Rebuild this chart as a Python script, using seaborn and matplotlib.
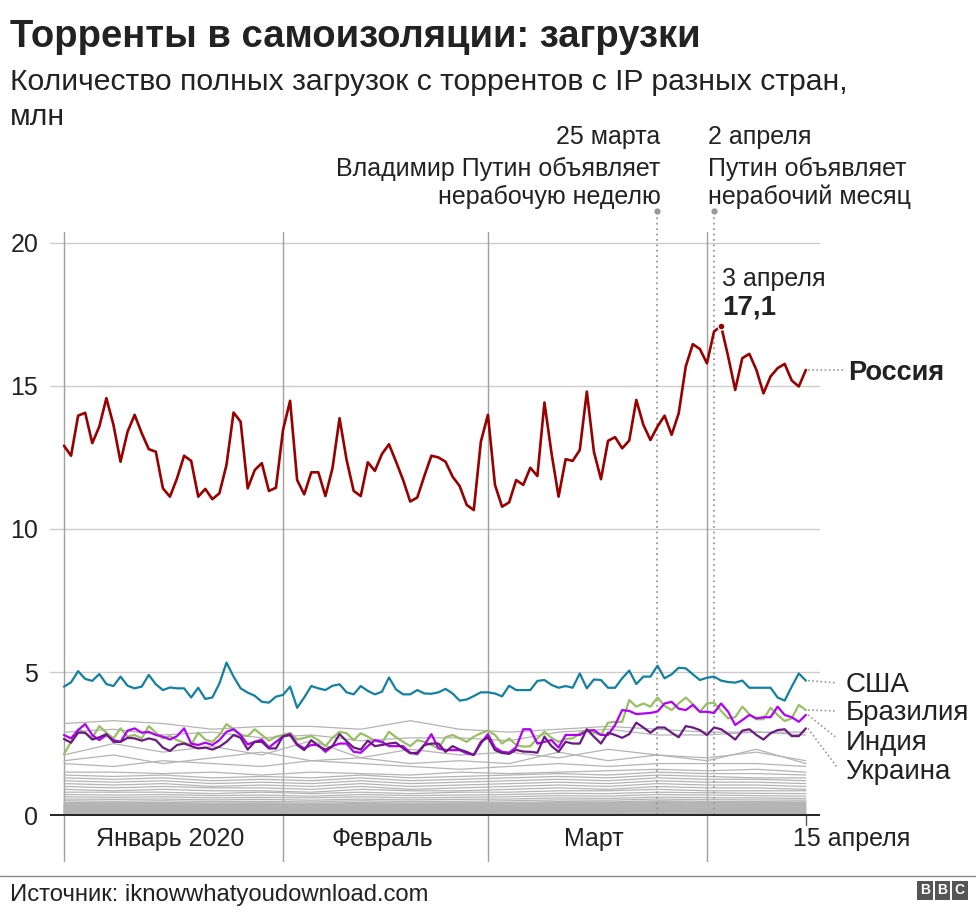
import numpy as np
import pandas as pd
import matplotlib
matplotlib.use("Agg")
import matplotlib.pyplot as plt
from matplotlib.lines import Line2D
from matplotlib.patches import Rectangle
import seaborn as sns

# ---------------- data ----------------
dates = pd.date_range("2020-01-01", "2020-04-15", freq="D")

russia = [12.91, 12.56, 13.96, 14.06, 13.0, 13.58, 14.57, 13.64, 12.35, 13.4,
          13.99, 13.35, 12.79, 12.7, 11.42, 11.13, 11.77, 12.56, 12.38, 11.13,
          11.4, 11.04, 11.25, 12.24, 14.07, 13.75, 11.42, 12.06, 12.3, 11.33,
          11.44, 13.46, 14.48, 11.71, 11.21, 11.98, 11.98, 11.15, 12.12, 13.87,
          12.41, 11.33, 11.15, 12.33, 12.03, 12.62, 12.96, 12.35, 11.71, 10.96,
          11.1, 11.85, 12.56, 12.5, 12.35, 11.83, 11.5, 10.84, 10.66, 13.05,
          13.99, 11.54, 10.78, 10.93, 11.71, 11.54, 12.14, 11.85, 14.42, 12.65,
          11.13, 12.44, 12.38, 12.76, 14.8, 12.7, 11.74, 13.08, 13.21, 12.82,
          13.09, 14.51, 13.64, 13.11, 13.58, 13.96, 13.29, 14.04, 15.68, 16.46,
          16.29, 15.79, 16.9, 17.1, 16.03, 14.86, 15.97, 16.12, 15.56, 14.74,
          15.33, 15.62, 15.77, 15.19, 14.98, 15.56]

usa = [4.49, 4.64, 5.03, 4.76, 4.69, 4.93, 4.58, 4.51, 4.84, 4.52,
       4.43, 4.49, 4.9, 4.57, 4.37, 4.46, 4.43, 4.43, 4.11, 4.45,
       4.06, 4.11, 4.6, 5.33, 4.84, 4.43, 4.28, 4.17, 3.96, 3.93,
       4.14, 4.2, 4.49, 3.75, 4.11, 4.51, 4.43, 4.37, 4.52, 4.57,
       4.29, 4.22, 4.51, 4.34, 4.22, 4.31, 4.81, 4.39, 4.22, 4.22,
       4.37, 4.25, 4.24, 4.29, 4.41, 4.25, 4.0, 4.04, 4.16, 4.29,
       4.29, 4.25, 4.15, 4.52, 4.37, 4.37, 4.37, 4.69, 4.72, 4.55,
       4.45, 4.51, 4.45, 4.95, 4.43, 4.74, 4.72, 4.45, 4.45, 4.78,
       5.05, 4.58, 4.84, 4.84, 5.22, 4.78, 4.92, 5.15, 5.13, 4.92,
       4.72, 4.8, 4.84, 4.7, 4.65, 4.63, 4.7, 4.45, 4.45, 4.45,
       4.45, 4.11, 4.0, 4.49, 4.95, 4.7]

brazil = [2.13, 2.56, 3.0, 2.86, 2.7, 3.11, 2.88, 2.68, 3.03, 2.74,
          2.8, 2.68, 3.11, 2.88, 2.68, 2.76, 2.62, 2.53, 2.45, 2.88,
          2.64, 2.56, 2.8, 3.18, 3.0, 2.8, 2.76, 3.0, 2.8, 2.6,
          2.74, 2.8, 2.87, 2.64, 2.7, 2.76, 2.62, 2.41, 2.7, 2.91,
          2.86, 2.62, 2.86, 2.74, 2.6, 2.53, 2.91, 2.72, 2.56, 2.41,
          2.62, 2.56, 2.45, 2.33, 2.72, 2.8, 2.68, 2.56, 2.74, 2.86,
          2.95, 2.8, 2.5, 2.68, 2.45, 2.39, 2.41, 2.68, 2.91, 2.7,
          2.56, 2.66, 2.68, 2.86, 2.97, 2.88, 2.8, 3.23, 3.26, 3.26,
          4.02, 3.79, 3.9, 3.79, 4.11, 3.82, 3.67, 3.9, 4.11, 3.88,
          3.61, 3.9, 3.93, 3.64, 3.38, 3.42, 3.79, 3.53, 3.35, 3.35,
          3.75, 3.5, 3.29, 3.38, 3.85, 3.67]

india = [2.8, 2.68, 2.97, 3.18, 2.8, 2.62, 2.8, 2.62, 2.56, 2.95,
         3.03, 2.88, 2.91, 2.8, 2.74, 2.64, 2.76, 3.03, 2.5, 2.45,
         2.53, 2.45, 2.62, 2.91, 3.0, 2.8, 2.47, 2.56, 2.64, 2.36,
         2.56, 2.74, 2.83, 2.48, 2.33, 2.45, 2.45, 2.21, 2.41, 2.5,
         2.5, 2.21, 2.18, 2.41, 2.62, 2.56, 2.41, 2.41, 2.41, 2.18,
         2.13, 2.45, 2.83, 2.33, 2.27, 2.27, 2.27, 2.16, 2.1, 2.5,
         2.83, 2.36, 2.21, 2.18, 2.37, 3.0, 3.0, 2.5, 2.56, 2.62,
         2.36, 2.8, 2.8, 2.8, 2.95, 2.97, 2.8, 2.8, 3.15, 3.67,
         3.64, 3.53, 3.55, 3.57, 3.62, 3.9, 3.96, 3.72, 3.67, 3.85,
         3.61, 3.61, 3.57, 3.9, 3.61, 3.15, 3.32, 3.5, 3.38, 3.42,
         3.42, 3.79, 3.5, 3.42, 3.26, 3.5]

ukraine = [2.66, 2.53, 2.88, 2.88, 2.64, 2.72, 2.83, 2.56, 2.56, 2.7,
           2.68, 2.6, 2.68, 2.62, 2.36, 2.24, 2.45, 2.5, 2.41, 2.33,
           2.36, 2.29, 2.39, 2.56, 2.8, 2.7, 2.29, 2.56, 2.56, 2.33,
           2.33, 2.76, 2.8, 2.45, 2.27, 2.62, 2.41, 2.29, 2.41, 2.83,
           2.58, 2.36, 2.29, 2.6, 2.41, 2.45, 2.5, 2.53, 2.33, 2.16,
           2.18, 2.45, 2.5, 2.5, 2.21, 2.41, 2.29, 2.21, 2.1, 2.56,
           2.72, 2.27, 2.17, 2.14, 2.28, 2.22, 2.21, 2.18, 2.74, 2.41,
           2.21, 2.56, 2.5, 2.5, 3.0, 2.74, 2.5, 2.88, 2.8, 2.7,
           2.83, 3.23, 3.06, 2.88, 3.06, 3.06, 2.88, 2.72, 3.11, 3.06,
           2.97, 2.8, 3.06, 3.0, 2.83, 2.64, 2.95, 3.0, 2.8, 2.64,
           2.86, 2.97, 3.0, 2.76, 2.76, 3.03]

# other countries, read weekly (Jan 1, Jan 8, ..., Apr 15)
grey_dates = pd.date_range("2020-01-01", "2020-04-15", freq="7D")
grey_lines = [
    [3.2, 3.3, 3.2, 3.0, 3.1, 3.1, 3.0, 3.3, 3.0, 2.9, 3.0, 3.1, 3.0, 2.9, 2.9, 2.9],
    [2.9, 3.0, 2.8, 2.9, 2.7, 2.8, 2.6, 2.7, 2.7, 2.6, 2.9, 3.0, 2.8, 2.8, 2.9, 2.8],
    [2.1, 2.5, 2.2, 2.4, 2.1, 2.6, 2.0, 2.3, 2.1, 2.2, 2.0, 2.3, 2.1, 2.0, 2.2, 1.9],
    [1.9, 2.1, 1.8, 2.0, 2.2, 1.9, 2.0, 1.8, 1.9, 1.8, 2.2, 1.9, 2.1, 1.9, 2.3, 1.8],
    [1.8, 1.7, 1.9, 1.8, 1.7, 1.9, 1.8, 1.7, 1.6, 1.7, 1.8, 1.7, 1.8, 1.8, 1.8, 1.7],
    [1.5, 1.5, 1.45, 1.5, 1.4, 1.5, 1.45, 1.4, 1.5, 1.45, 1.5, 1.55, 1.6, 1.55, 1.6, 1.5],
    [1.4, 1.35, 1.4, 1.3, 1.35, 1.3, 1.4, 1.3, 1.35, 1.4, 1.45, 1.4, 1.5, 1.45, 1.45, 1.4],
    [1.3, 1.25, 1.3, 1.2, 1.25, 1.2, 1.3, 1.2, 1.25, 1.3, 1.35, 1.3, 1.4, 1.35, 1.3, 1.3],
    [1.2, 1.15, 1.2, 1.1, 1.15, 1.1, 1.2, 1.1, 1.15, 1.2, 1.25, 1.2, 1.3, 1.25, 1.25, 1.2],
    [1.1, 1.05, 1.1, 1.0, 1.05, 1.0, 1.1, 1.0, 1.05, 1.1, 1.15, 1.1, 1.2, 1.15, 1.15, 1.1],
    [1.0, 0.95, 1.0, 0.95, 0.95, 0.9, 1.0, 0.9, 0.95, 1.0, 1.05, 1.0, 1.1, 1.05, 1.05, 1.0],
    [0.9, 0.85, 0.9, 0.85, 0.85, 0.8, 0.9, 0.85, 0.85, 0.9, 0.95, 0.9, 1.0, 0.95, 0.95, 0.9],
    [0.8, 0.8, 0.8, 0.75, 0.8, 0.75, 0.8, 0.75, 0.8, 0.8, 0.85, 0.85, 0.9, 0.85, 0.85, 0.85],
    [0.72, 0.7, 0.72, 0.68, 0.7, 0.66, 0.72, 0.68, 0.7, 0.72, 0.76, 0.75, 0.8, 0.78, 0.76, 0.75],
    [0.64, 0.62, 0.64, 0.6, 0.62, 0.6, 0.64, 0.6, 0.62, 0.64, 0.68, 0.66, 0.72, 0.7, 0.68, 0.66],
    [0.56, 0.55, 0.56, 0.53, 0.55, 0.52, 0.56, 0.53, 0.55, 0.56, 0.6, 0.58, 0.63, 0.61, 0.6, 0.58],
    [0.5, 0.48, 0.5, 0.47, 0.48, 0.46, 0.5, 0.47, 0.48, 0.5, 0.53, 0.52, 0.56, 0.54, 0.53, 0.52],
    [0.44, 0.43, 0.44, 0.42, 0.43, 0.41, 0.44, 0.42, 0.43, 0.44, 0.47, 0.46, 0.5, 0.48, 0.47, 0.46],
    [0.41, 0.4, 0.41, 0.39, 0.4, 0.38, 0.41, 0.39, 0.4, 0.41, 0.44, 0.43, 0.47, 0.45, 0.44, 0.43],
    [0.39, 0.38, 0.39, 0.37, 0.38, 0.36, 0.39, 0.37, 0.38, 0.39, 0.42, 0.41, 0.44, 0.43, 0.42, 0.41],
    [0.36, 0.35, 0.36, 0.34, 0.35, 0.34, 0.36, 0.34, 0.35, 0.36, 0.39, 0.38, 0.41, 0.4, 0.39, 0.38],
    [0.34, 0.33, 0.34, 0.32, 0.33, 0.32, 0.34, 0.32, 0.33, 0.34, 0.37, 0.36, 0.39, 0.38, 0.37, 0.36],
    [0.31, 0.3, 0.31, 0.3, 0.3, 0.29, 0.31, 0.3, 0.3, 0.31, 0.34, 0.33, 0.36, 0.35, 0.34, 0.33],
    [0.29, 0.28, 0.29, 0.28, 0.28, 0.27, 0.29, 0.28, 0.28, 0.29, 0.32, 0.31, 0.34, 0.33, 0.32, 0.31],
    [0.27, 0.26, 0.27, 0.26, 0.26, 0.25, 0.27, 0.26, 0.26, 0.27, 0.29, 0.28, 0.31, 0.3, 0.29, 0.28],
    [0.25, 0.24, 0.25, 0.24, 0.24, 0.23, 0.25, 0.24, 0.24, 0.25, 0.27, 0.26, 0.29, 0.28, 0.27, 0.26],
    [0.23, 0.22, 0.23, 0.22, 0.22, 0.21, 0.23, 0.22, 0.22, 0.23, 0.25, 0.24, 0.26, 0.25, 0.25, 0.24],
    [0.21, 0.2, 0.21, 0.2, 0.2, 0.19, 0.21, 0.2, 0.2, 0.21, 0.23, 0.22, 0.24, 0.23, 0.23, 0.22],
    [0.19, 0.18, 0.19, 0.18, 0.18, 0.17, 0.19, 0.18, 0.18, 0.19, 0.2, 0.2, 0.22, 0.21, 0.2, 0.2],
    [0.17, 0.16, 0.17, 0.16, 0.16, 0.15, 0.17, 0.16, 0.16, 0.17, 0.18, 0.18, 0.2, 0.19, 0.18, 0.18],
    [0.15, 0.14, 0.15, 0.14, 0.14, 0.13, 0.15, 0.14, 0.14, 0.15, 0.16, 0.16, 0.17, 0.17, 0.16, 0.16],
    [0.13, 0.12, 0.13, 0.12, 0.12, 0.12, 0.13, 0.12, 0.12, 0.13, 0.14, 0.14, 0.15, 0.15, 0.14, 0.14],
    [0.11, 0.1, 0.11, 0.1, 0.1, 0.1, 0.11, 0.1, 0.1, 0.11, 0.12, 0.12, 0.13, 0.12, 0.12, 0.12],
    [0.09, 0.09, 0.09, 0.08, 0.09, 0.08, 0.09, 0.08, 0.09, 0.09, 0.1, 0.1, 0.11, 0.1, 0.1, 0.1],
    [0.07, 0.07, 0.07, 0.06, 0.07, 0.06, 0.07, 0.06, 0.07, 0.07, 0.08, 0.08, 0.08, 0.08, 0.08, 0.08],
    [0.05, 0.05, 0.05, 0.05, 0.05, 0.04, 0.05, 0.05, 0.05, 0.05, 0.06, 0.06, 0.06, 0.06, 0.06, 0.06],
    [0.03, 0.03, 0.03, 0.03, 0.03, 0.03, 0.03, 0.03, 0.03, 0.03, 0.04, 0.04, 0.04, 0.04, 0.04, 0.04],
]

y_ticks = [0, 5, 10, 15, 20]
month_starts = ["2020-01-01", "2020-02-01", "2020-03-01", "2020-04-01"]
month_labels = ["Январь 2020", "Февраль", "Март"]
month_label_pos = ["2020-01-16", "2020-02-15", "2020-03-16"]
events = ["2020-03-25", "2020-04-02"]

# ---------------- style ----------------
sns.set_style("white")
plt.rcParams["font.family"] = ["Liberation Sans", "DejaVu Sans"]
TXT = "#222222"

W, H = 976, 916
fig = plt.figure(figsize=(W / 100, H / 100), dpi=100)
ax = fig.add_axes([50 / W, 54 / H, 770 / W, 630 / H])

t0 = dates[0]
def dnum(d):
    return (pd.Timestamp(d) - t0).days

day = np.array([(d - t0).days for d in dates])
gday = np.array([(d - t0).days for d in grey_dates])

# grey countries
grey_df = pd.DataFrame({
    "day": np.tile(gday, len(grey_lines)),
    "value": np.concatenate(grey_lines),
    "country": np.repeat(np.arange(len(grey_lines)), len(gday)),
})
sns.lineplot(data=grey_df, x="day", y="value", units="country", estimator=None,
             color="#b4b4b4", lw=0.9, ax=ax, zorder=2)

series = [
    ("США", usa, "#1380A1", 1.6),
    ("Бразилия", brazil, "#98BF64", 1.6),
    ("Индия", india, "#B000F5", 1.6),
    ("Украина", ukraine, "#6B1A82", 1.6),
    ("Россия", russia, "#990000", 1.9),
]
for name, vals, col, lw in series:
    sns.lineplot(x=day, y=np.array(vals), color=col, lw=lw, ax=ax, zorder=4)

ax.set_xlim(-1.98, 107.0)
ax.set_ylim(-1.64, 20.38)
for s in ax.spines.values():
    s.set_visible(False)

for yv in y_ticks[1:]:
    ax.axhline(yv, color="#cccccc", lw=1, zorder=0)
ax.axhline(0, color="#222222", lw=1.4, zorder=5)
for m in month_starts:
    ax.axvline(dnum(m), color="#a0a0a0", lw=1, zorder=1)

ax.set_yticks(y_ticks)
ax.set_yticklabels([str(v) for v in y_ticks])
ax.set_xticks([])
ax.tick_params(axis="y", length=0, pad=8.5, labelsize=18, labelcolor=TXT)
ax.set_xlabel("")
ax.set_ylabel("")

# month labels
for lab, pos in zip(month_labels, month_label_pos):
    ax.text(dnum(pos), -1.08, lab, ha="center", va="baseline", fontsize=18, color=TXT)
last = dnum(dates[-1])
ax.plot([last, last], [0, -0.35], color="#555555", lw=1, clip_on=False)
ax.text(last - 1.8, -1.08, "15 апреля", ha="left", va="baseline", fontsize=18, color=TXT)

# event lines
for ev in events:
    x = dnum(ev)
    ax.plot([x, x], [0, 21.12], ls=(0, (1, 2)), color="#999999", lw=1.3,
            clip_on=False, zorder=3)
    ax.plot([x], [21.12], "o", ms=3.5, color="#999999", clip_on=False)

xe1, xe2 = dnum(events[0]) + 0.4, dnum(events[1]) - 0.9
ax.text(xe1, 23.46, "25 марта", ha="right", va="baseline", fontsize=18, color=TXT)
ax.text(xe1, 22.34, "Владимир Путин объявляет", ha="right", va="baseline", fontsize=18, color=TXT)
ax.text(xe1, 21.36, "нерабочую неделю", ha="right", va="baseline", fontsize=18, color=TXT)
ax.text(xe2, 23.46, "2 апреля", ha="left", va="baseline", fontsize=18, color=TXT)
ax.text(xe2, 22.34, "Путин объявляет", ha="left", va="baseline", fontsize=18, color=TXT)
ax.text(xe2, 21.36, "нерабочий месяц", ha="left", va="baseline", fontsize=18, color=TXT)

# peak
peak_i = int(np.argmax(russia))
ax.plot([day[peak_i]], [russia[peak_i]], "o", ms=5, color="#990000",
        mec="white", mew=1, zorder=6)
ax.text(day[peak_i] + 0.2, 18.50, "3 апреля", ha="left", va="baseline", fontsize=18, color=TXT)
ax.text(day[peak_i] + 0.2, 17.48, "17,1", ha="left", va="baseline", fontsize=20,
        fontweight="bold", color=TXT)

# right-hand labels with leaders
lab_x = 110.6
lead_end = 109.4
ax.plot([last + 0.3, lead_end + 0.8], [russia[-1], russia[-1]], ls=(0, (1, 1.5)),
        color="#999999", lw=1.2, clip_on=False)
ax.text(lab_x + 0.4, 15.21, "Россия", ha="left", va="baseline", fontsize=19.5,
        fontweight="bold", color=TXT)
labels_right = [("США", usa[-1], 4.62, 4.30), ("Бразилия", brazil[-1], 3.64, 3.32),
                ("Индия", india[-1], 2.69, 2.27), ("Украина", ukraine[-1], 1.68, 1.26)]
for name, yend, ylead, ybase in labels_right:
    ax.plot([last + 0.3, lead_end], [yend, ylead], ls=(0, (1, 1.5)), color="#999999",
            lw=1.2, clip_on=False)
    ax.text(lab_x, ybase, name, ha="left", va="baseline", fontsize=20, color=TXT)

# titles
fig.text(10 / W, 1 - 47 / H, "Торренты в самоизоляции: загрузки", fontsize=27.5,
         fontweight="bold", color=TXT, ha="left", va="baseline")
fig.text(10 / W, 1 - 90 / H, "Количество полных загрузок с торрентов с IP разных стран,",
         fontsize=21.7, color=TXT, ha="left", va="baseline")
fig.text(10 / W, 1 - 125 / H, "млн", fontsize=21.7, color=TXT, ha="left", va="baseline")

# footer
fig.add_artist(Line2D([0, 1], [1 - 876 / H, 1 - 876 / H], color="#8a8a8a", lw=1))
fig.text(10 / W, 1 - 901 / H, "Источник: iknowwhatyoudownload.com", fontsize=17.2,
         color=TXT, ha="left", va="baseline")
for k, letter in enumerate("BBC"):
    x0 = 917 + k * 17.5
    fig.add_artist(Rectangle((x0 / W, 1 - 900 / H), 15.5 / W, 19 / H,
                             facecolor="#555555", edgecolor="none",
                             transform=fig.transFigure))
    fig.text((x0 + 7.75) / W, 1 - 890.5 / H, letter, fontsize=10, fontweight="bold",
             color="white", ha="center", va="center")

fig.savefig("out.png", dpi=100, facecolor="white")
